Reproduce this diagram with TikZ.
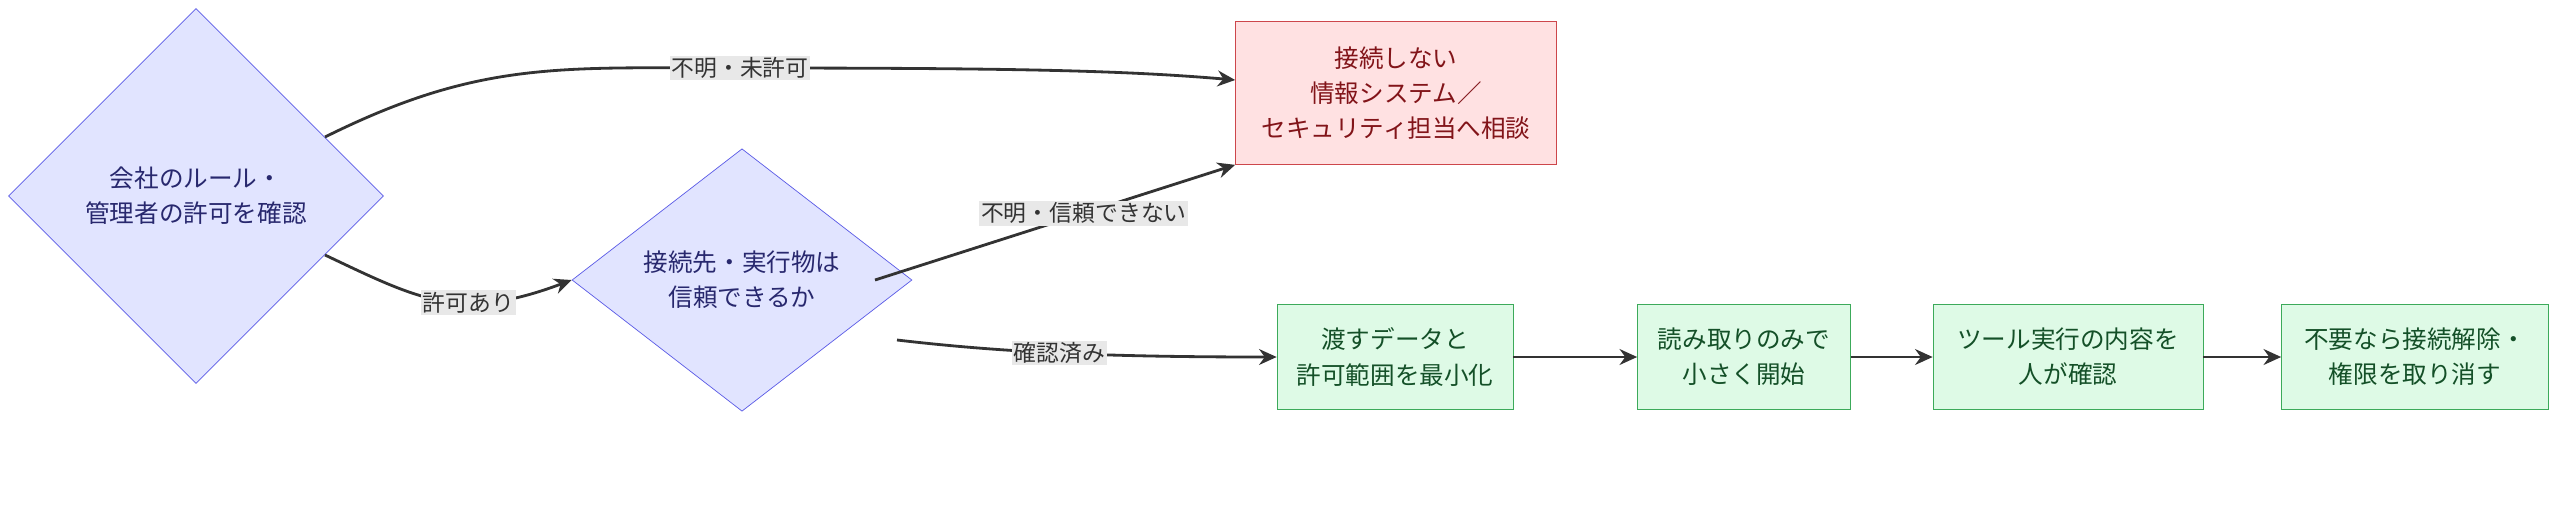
\documentclass[tikz,border=0pt]{standalone}
\usepackage{fontspec}
\setmainfont{Noto Sans CJK JP}
\usetikzlibrary{shapes.geometric,arrows.meta,positioning}
\definecolor{qfill}{RGB}{225,228,255}
\definecolor{qline}{RGB}{90,90,230}
\definecolor{qtext}{RGB}{40,40,110}
\definecolor{nofill}{RGB}{255,225,226}
\definecolor{noline}{RGB}{205,70,75}
\definecolor{notext}{RGB}{130,20,25}
\definecolor{okfill}{RGB}{222,250,230}
\definecolor{okline}{RGB}{60,170,90}
\definecolor{oktext}{RGB}{20,80,40}
\definecolor{edgeink}{RGB}{51,51,51}
\definecolor{labelbg}{RGB}{232,232,232}
\tikzset{
  question/.style={diamond, aspect=1, inner sep=0pt, draw=qline, fill=qfill, text=qtext, align=center, font=\fontsize{14}{20}\selectfont},
  stop/.style={rectangle, draw=noline, fill=nofill, text=notext, align=center, font=\fontsize{14}{20}\selectfont},
  action/.style={rectangle, draw=okline, fill=okfill, text=oktext, align=center, font=\fontsize{14}{20}\selectfont},
  flow/.style={draw=edgeink, line width=1.6pt, -{Stealth[length=10pt,width=9pt]}},
  tag/.style={fill=labelbg, text=edgeink, inner sep=1pt, font=\fontsize{13}{15}\selectfont}
}
\begin{document}
\begin{tikzpicture}[x=0.02cm, y=-0.02cm]
    \useasboundingbox (0,0) rectangle (2560,505);
    % Decisions
    \node[question, minimum width=7.5cm, minimum height=7.5cm] (rule) at (196,196) {会社のルール・\\管理者の許可を確認};
    \node[question, minimum width=6.8cm, minimum height=5.25cm] (trust) at (742,280) {接続先・実行物は\\信頼できるか};
    % Stop
    \node[stop, minimum width=6.42cm, minimum height=2.86cm] (ask) at (1396,93) {接続しない\\情報システム／\\セキュリティ担当へ相談};
    % Steps
    \node[action, minimum width=4.72cm, minimum height=2.1cm] (min) at (1395,357) {渡すデータと\\許可範囲を最小化};
    \node[action, minimum width=4.26cm, minimum height=2.1cm] (read) at (1744,357) {読み取りのみで\\小さく開始};
    \node[action, minimum width=5.4cm, minimum height=2.1cm] (check) at (2068,357) {ツール実行の内容を\\人が確認};
    \node[action, minimum width=5.34cm, minimum height=2.1cm] (undo) at (2415,357) {不要なら接続解除・\\権限を取り消す};
    % Connectors
    \draw[flow] (325,137) .. controls (480,60) and (560,68) .. (740,68) node[tag] {不明・未許可}
        .. controls (1000,68) and (1120,70) .. (ask.west |- 0,80);
    \draw[flow] (325,255) .. controls (420,300) and (460,322) .. node[tag, pos=0.62] {許可あり} (trust.west);
    \draw[flow] (875,280) -- node[tag, pos=0.58] {不明・信頼できない} (ask.south west);
    \draw[flow] (897,340) .. controls (1000,352) and (1100,357) .. node[tag, pos=0.5] {確認済み} (min.west);
    \draw[flow] (min) -- (read);
    \draw[flow] (read) -- (check);
    \draw[flow] (check) -- (undo);
\end{tikzpicture}
\end{document}
